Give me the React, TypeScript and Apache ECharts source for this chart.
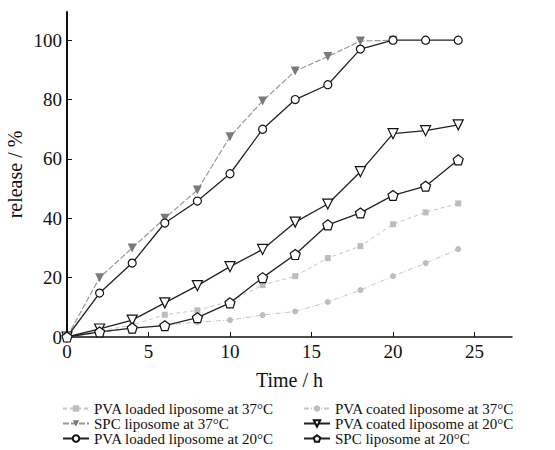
import React, { useEffect, useRef } from "react";
import * as echarts from "echarts";

const times = [0, 2, 4, 6, 8, 10, 12, 14, 16, 18, 20, 22, 24];
const pvaLoaded37 = [0, 2, 4, 7.5, 9, 12, 17.5, 20.5, 26.6, 30.6, 38, 42, 45];
const pvaCoated37 = [0, 1.5, 3, 4, 5, 5.7, 7.4, 8.6, 11.8, 15.8, 20.5, 24.9, 29.6];
const spc37 = [0, 20, 30, 40, 49.5, 67.5, 79.5, 89.6, 94.5, 99.7, 100];
const pvaCoated20 = [0, 2.7, 5.7, 11.5, 17.3, 23.7, 29.5, 38.7, 44.8, 55.7, 68.5, 69.5, 71.5];
const pvaLoaded20 = [0, 14.8, 24.9, 38.4, 45.8, 55, 70, 80, 85, 97, 100, 100, 100];
const spc20 = [0, 1.7, 3, 3.8, 6.5, 11.5, 20, 27.8, 37.8, 41.8, 47.7, 50.8, 59.7];

const yTicks = [0, 20, 40, 60, 80, 100];
const xTicks = [0, 5, 10, 15, 20, 25];

const names = [
  "PVA loaded liposome at 37°C",
  "PVA coated liposome at 37°C",
  "SPC liposome at 37°C",
  "PVA coated liposome at 20°C",
  "PVA loaded liposome at 20°C",
  "SPC liposome at 20°C",
];

const pentagon =
  "path://M0,-10 L9.51,-3.09 L5.88,8.09 L-5.88,8.09 L-9.51,-3.09 Z";

const pair = (ys: number[]) => ys.map((v, i) => [times[i], v]);

export default function App() {
  const ref = useRef<HTMLDivElement>(null);
  useEffect(() => {
    if (!ref.current) return;
    const chart = echarts.init(ref.current, null, { renderer: "svg" });
    const font = "Liberation Serif";
    const tickText = { fontFamily: font, fontSize: 19, color: "#111", fontWeight: "normal" };
    const legendPos = [
      [62, 401],
      [303, 401],
      [62, 416],
      [303, 416],
      [62, 431],
      [303, 431],
    ];
    const legends = names.map((n, i) => ({
      data: [n],
      left: legendPos[i][0],
      top: legendPos[i][1],
      itemWidth: 26,
      itemHeight: 8,
      itemGap: 0,
      padding: 0,
      textStyle: { fontFamily: font, fontSize: 15, lineHeight: 13, color: "#111" },
    }));
    chart.setOption({
      animation: false,
      backgroundColor: "#fff",
      textStyle: { fontFamily: font, color: "#111" },
      grid: {
        left: 67,
        top: 12,
        right: 43,
        bottom: 113,
        containLabel: false,
        outerBoundsMode: "none",
      },
      legend: legends,
      xAxis: {
        type: "value",
        min: 0,
        max: 27.3,
        interval: 5,
        name: "Time / h",
        nameLocation: "middle",
        nameGap: 33,
        nameMoveOverlap: false,
        nameTextStyle: { fontFamily: font, fontSize: 20, color: "#111" },
        axisLine: { lineStyle: { color: "#111", width: 1.5 } },
        axisTick: { inside: true, length: 5, lineStyle: { color: "#111" } },
        axisLabel: {
          ...tickText,
          margin: 5,
          showMaxLabel: false,
          formatter: (v: number) => (xTicks.includes(v) ? `{t|${v}}` : ""),
          rich: { t: tickText },
        },
        splitLine: { show: false },
      },
      yAxis: {
        type: "value",
        min: 0,
        max: 109.5,
        interval: 20,
        name: "release / %",
        nameLocation: "middle",
        nameGap: 42,
        nameMoveOverlap: false,
        nameTextStyle: { fontFamily: font, fontSize: 20, color: "#111" },
        axisLine: { lineStyle: { color: "#111", width: 2 } },
        axisTick: { inside: true, length: 5, lineStyle: { color: "#111" } },
        axisLabel: {
          ...tickText,
          margin: 5,
          showMaxLabel: false,
          formatter: (v: number) => (yTicks.includes(v) ? `{t|${v}}` : ""),
          rich: { t: tickText },
        },
        splitLine: { show: false },
      },
      series: [
        {
          name: names[0],
          type: "line",
          data: pair(pvaLoaded37),
          symbol: "rect",
          symbolSize: 6,
          itemStyle: { color: "#bdbdbd" },
          lineStyle: { color: "#c4c4c4", width: 1, type: [4, 3] },
        },
        {
          name: names[1],
          type: "line",
          data: pair(pvaCoated37),
          symbol: "circle",
          symbolSize: 6,
          itemStyle: { color: "#bdbdbd" },
          lineStyle: { color: "#c4c4c4", width: 1, type: [5, 2, 1, 2] },
        },
        {
          name: names[2],
          type: "line",
          data: pair(spc37),
          symbol: "triangle",
          symbolRotate: 180,
          symbolSize: 9,
          itemStyle: { color: "#7a7a7a" },
          lineStyle: { color: "#999", width: 1.2, type: [6, 2] },
        },
        {
          name: names[3],
          type: "line",
          data: pair(pvaCoated20),
          symbol: "triangle",
          symbolRotate: 180,
          symbolSize: 10,
          itemStyle: { color: "#fff", borderColor: "#111", borderWidth: 1.2 },
          lineStyle: { color: "#222", width: 1.3 },
        },
        {
          name: names[4],
          type: "line",
          data: pair(pvaLoaded20),
          symbol: "circle",
          symbolSize: 8,
          itemStyle: { color: "#fff", borderColor: "#111", borderWidth: 1.2 },
          lineStyle: { color: "#222", width: 1.3 },
        },
        {
          name: names[5],
          type: "line",
          data: pair(spc20),
          symbol: pentagon,
          symbolSize: 10,
          itemStyle: { color: "#fff", borderColor: "#111", borderWidth: 1.2 },
          lineStyle: { color: "#222", width: 1.3 },
        },
      ],
    });
    return () => chart.dispose();
  }, []);
  return (
    <div
      ref={ref}
      style={{ position: "fixed", left: 0, top: 0, width: 555, height: 450 }}
    />
  );
}
